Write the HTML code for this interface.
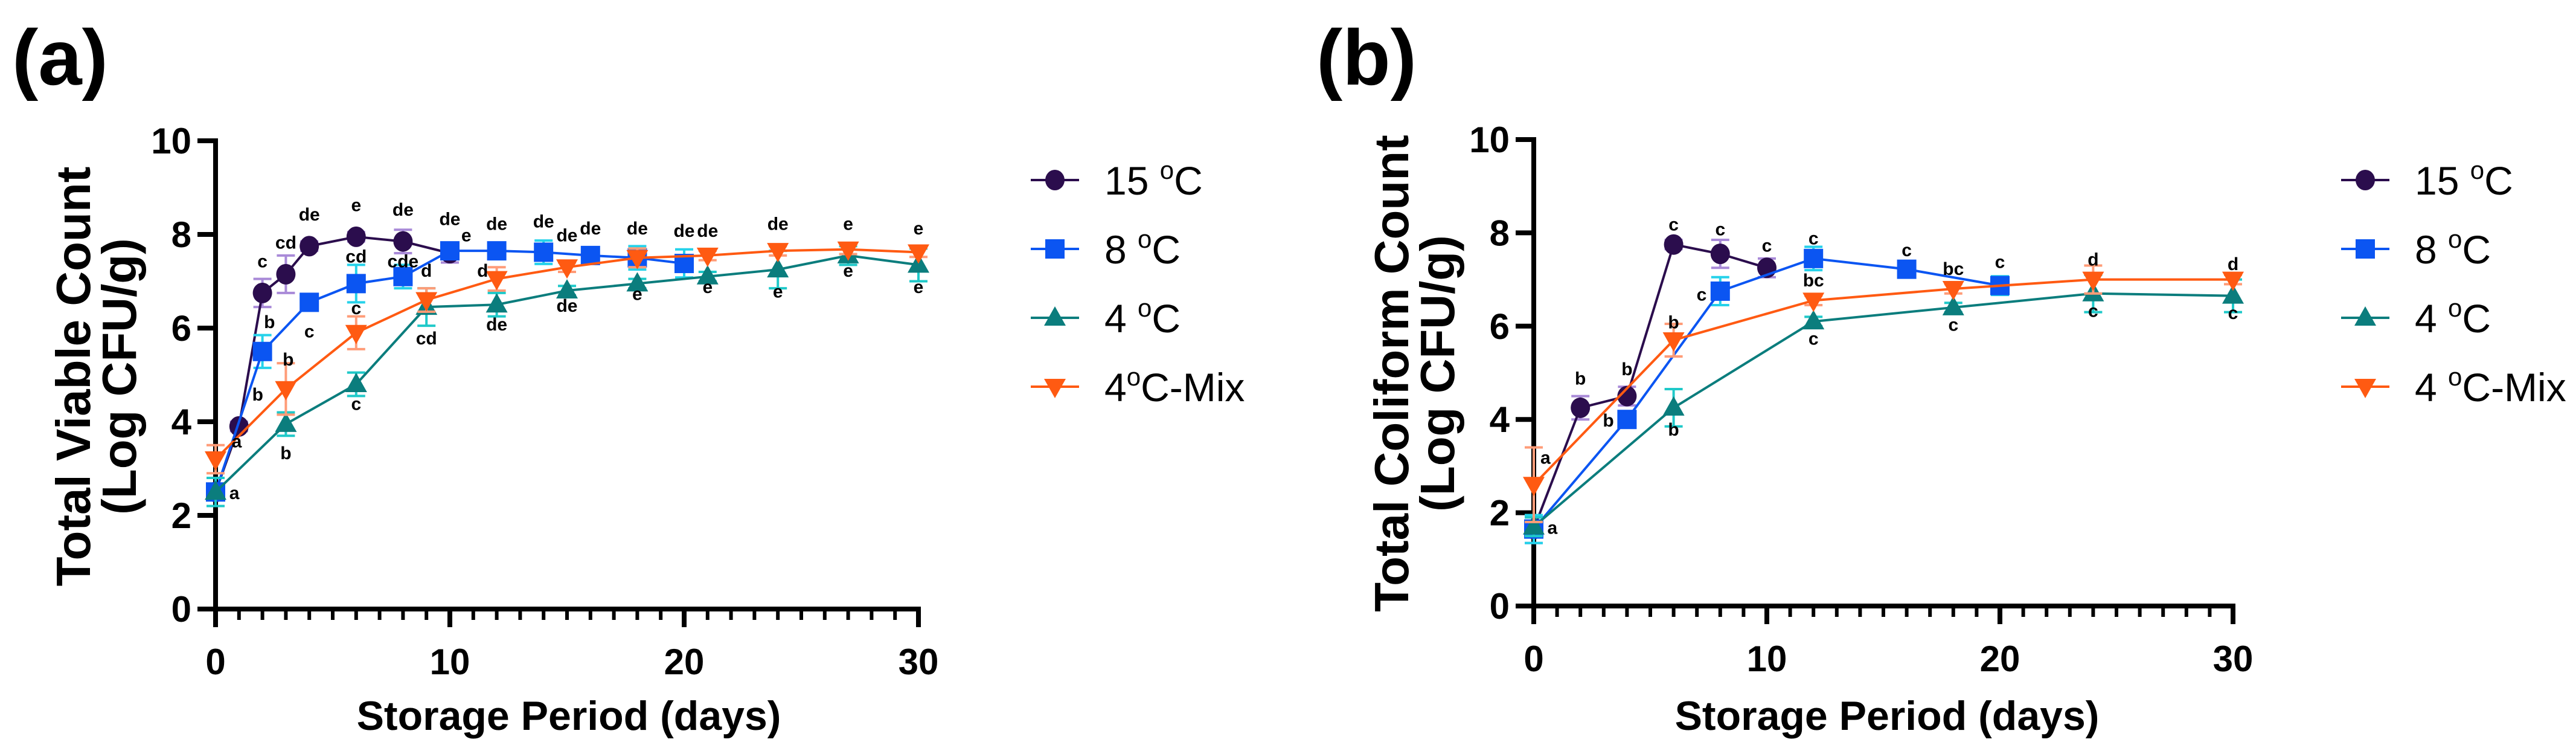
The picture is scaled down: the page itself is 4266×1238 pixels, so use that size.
<!DOCTYPE html>
<html><head><meta charset="utf-8"><style>
html,body{margin:0;padding:0;background:#fff;}
svg{display:block;}
text{font-family:"Liberation Sans Narrow","Liberation Sans",sans-serif;font-weight:bold;fill:#000;}
.w{font-family:"Liberation Sans",sans-serif;}
</style></head><body>
<svg id="fig" width="4266" height="1238" viewBox="0 0 4266 1238" xmlns="http://www.w3.org/2000/svg"></svg>
<script>
// ---- Panel (a) data: Total Viable Count ----
const aDays15 = [0,1,2,3,4,6,8,10];
const aVals15 = [2.5,3.9,6.75,7.15,7.75,7.95,7.85,7.6];
const aErr15  = [0.3,0.1,0.3,0.4,0.1,0.1,0.25,0.2];
const aDays8 = [0,2,4,6,8,10,12,14,16,18,20];
const aVals8 = [2.5,5.5,6.55,6.95,7.1,7.65,7.65,7.62,7.55,7.5,7.38];
const aErr8  = [0.3,0.35,0.1,0.4,0.25,0.1,0.1,0.25,0.1,0.25,0.3];
const aDays4 = [0,3,6,9,12,15,18,21,24,27,30];
const aVals4 = [2.5,3.95,4.8,6.45,6.5,6.8,6.95,7.1,7.25,7.55,7.35];
const aErr4  = [0.3,0.25,0.25,0.4,0.25,0.1,0.1,0.1,0.4,0.2,0.35];
const aDaysM = [0,3,6,9,12,15,18,21,24,27,30];
const aValsM = [3.2,4.7,5.9,6.6,7.05,7.3,7.5,7.55,7.65,7.68,7.62];
const aErrM  = [0.3,0.55,0.35,0.25,0.25,0.1,0.2,0.1,0.1,0.1,0.1];
const aLabels = [[0.9,3.45,'a'],[0.8,2.35,'a'],[1.8,4.45,'b'],[2,7.3,'c'],[3,7.7,'cd'],[4,8.3,'de'],[6,8.5,'e'],[8,8.4,'de'],
 [2.3,6.0,'b'],[3.1,5.2,'b'],[3,3.2,'b'],[4,5.8,'c'],[6,7.4,'cd'],[6,6.3,'c'],[6,4.25,'c'],[8,7.3,'cde'],[9,5.65,'cd'],[9,7.1,'d'],
 [10,8.2,'de'],[10.7,7.85,'e'],[12,8.1,'de'],[11.4,7.1,'d'],[12,5.95,'de'],[14,8.15,'de'],[15,7.85,'de'],[15,6.35,'de'],[16,8.0,'de'],
 [18,8.0,'de'],[18,6.6,'e'],[20,7.95,'de'],[21,7.95,'de'],[21,6.75,'e'],[24,8.1,'de'],[24,6.65,'e'],[27,8.1,'e'],[27,7.1,'e'],[30,8.0,'e'],[30,6.75,'e']];
// ---- Panel (b) data: Total Coliform Count ----
const bDays15 = [0,2,4,6,8,10];
const bVals15 = [1.65,4.25,4.5,7.75,7.55,7.25];
const bErr15  = [0.3,0.25,0.2,0.1,0.3,0.2];
const bDays8 = [0,4,8,12,16,20];
const bVals8 = [1.65,4.0,6.75,7.45,7.22,6.87];
const bErr8  = [0.3,0.1,0.3,0.25,0.1,0.2];
const bDays4 = [0,6,12,18,24,30];
const bVals4 = [1.7,4.25,6.1,6.4,6.7,6.65];
const bErr4  = [0.2,0.4,0.1,0.1,0.4,0.35];
const bDaysM = [0,6,12,18,24,30];
const bValsM = [2.6,5.7,6.55,6.8,7.0,7.0];
const bErrM  = [0.8,0.35,0.1,0.1,0.3,0.1];
const bLabels = [[0.5,3.05,'a'],[0.8,1.55,'a'],[2,4.75,'b'],[4,4.95,'b'],[3.2,3.85,'b'],[6,5.95,'b'],[6,3.65,'b'],[6,8.05,'c'],[8,7.95,'c'],
 [10,7.6,'c'],[7.2,6.55,'c'],[12,7.75,'c'],[12,6.85,'bc'],[12,5.6,'c'],[16,7.5,'c'],[18,7.1,'bc'],[18,5.9,'c'],[20,7.25,'c'],
 [24,7.3,'d'],[24,6.2,'c'],[30,7.2,'d'],[30,6.15,'c']];
const yTicks = [0,2,4,6,8,10];
const xTicks = [0,10,20,30];
const legendNames = ['15 \u00B0C','8 \u00B0C','4 \u00B0C','4\u00B0C-Mix'];

const NS='http://www.w3.org/2000/svg';
const svg=document.getElementById('fig');
function el(tag,attrs,parent){const e=document.createElementNS(NS,tag);for(const k in attrs)e.setAttribute(k,attrs[k]);(parent||svg).appendChild(e);return e;}
const COLORS=[{c:'#2b0d4d',e:'#a98ad8'},{c:'#0b55f2',e:'#25d2ea'},{c:'#0b7d7d',e:'#1fc9c9'},{c:'#ff5a12',e:'#ff9c78'}];

function marker(g,type,x,y,color){
  let m;
  if(type===0){m=el('ellipse',{cx:x,cy:y,rx:16,ry:17,fill:color},g);}
  else if(type===1){m=el('rect',{x:x-16,y:y-16,width:32,height:32,fill:color},g);}
  else if(type===2){m=el('polygon',{points:`${x},${y-19} ${x-18},${y+13} ${x+18},${y+13}`,fill:color},g);}
  else {m=el('polygon',{points:`${x},${y+19} ${x-18},${y-13} ${x+18},${y-13}`,fill:color},g);}
  return m;
}

function panel(p){
  const g=el('g',{});
  
  
  const X=d=>p.x0+d*p.dx, Y=v=>p.y0-v*p.dy;
  const pl=el('text',{x:p.letterX,y:140,'font-size':130,class:'w'},g);pl.textContent=p.letter;
  
  const ax=el('g',{},g);
  
  
  el('line',{x1:p.x0,y1:Y(10)-4,x2:p.x0,y2:p.y0+30,stroke:'#000','stroke-width':8},ax);
  el('line',{x1:p.x0-30,y1:p.y0,x2:X(30)+4,y2:p.y0,stroke:'#000','stroke-width':8},ax);
  yTicks.forEach(v=>{
    el('line',{x1:p.x0-30,y1:Y(v),x2:p.x0,y2:Y(v),stroke:'#000','stroke-width':8},ax);
    const t=el('text',{x:p.x0-40,y:Y(v)+21,'font-size':60,'text-anchor':'end'},ax);t.textContent=v;
    
  });
  for(let d=0;d<=30;d++){
    const major=d%10===0;
    el('line',{x1:X(d),y1:p.y0,x2:X(d),y2:p.y0+(major?30:18),stroke:'#000','stroke-width':major?8:6},ax);
  }
  xTicks.forEach(d=>{
    const t=el('text',{x:X(d),y:p.y0+108,'font-size':60,'text-anchor':'middle'},ax);t.textContent=d;
    
  });
  const xt=el('text',{x:p.x0+585,y:1208,'font-size':68,'text-anchor':'middle'},g);xt.textContent='Storage Period (days)';
  
  const yt=el('text',{transform:`translate(${p.x0-208},${p.y0-385}) rotate(-90)`,'font-size':80,'text-anchor':'middle',class:'w'},g);
  el('tspan',{x:0,dy:0},yt).textContent=p.ytitle;
  el('tspan',{x:0,dy:76},yt).textContent='(Log CFU/g)';
  
  p.series.forEach((s,i)=>{
    const sg=el('g',{},g);
    
    
    const col=COLORS[i];
    s.days.forEach((d,j)=>{
      const x=X(d),y1=Y(s.vals[j]+s.err[j]),y2=Y(s.vals[j]-s.err[j]);
      el('line',{x1:x,y1:y1,x2:x,y2:y2,stroke:col.e,'stroke-width':4},sg);
      el('line',{x1:x-15,y1:y1,x2:x+15,y2:y1,stroke:col.e,'stroke-width':4},sg);
      el('line',{x1:x-15,y1:y2,x2:x+15,y2:y2,stroke:col.e,'stroke-width':4},sg);
    });
    const pts=s.days.map((d,j)=>X(d)+','+Y(s.vals[j])).join(' ');
    el('polyline',{points:pts,fill:'none',stroke:col.c,'stroke-width':4},sg);
    s.days.forEach((d,j)=>{
      const m=marker(sg,i,X(d),Y(s.vals[j]),col.c);
      
      
    });
  });
  p.labels.forEach(l=>{
    const t=el('text',{x:X(l[0]),y:Y(l[1]),'font-size':30,'text-anchor':'middle',class:'w'},g);t.textContent=l[2];
    
  });
  const lg=el('g',{},g);
  
  
  legendNames.forEach((n,i)=>{
    const y=298+i*114;
    const e=el('g',{},lg);
    
    
    el('line',{x1:p.legX-40,y1:y,x2:p.legX+40,y2:y,stroke:COLORS[i].c,'stroke-width':4},e);
    marker(e,i,p.legX,y,COLORS[i].c);
    const name=(p.letter==='(b)'&&i===3)?'4 \u00B0C-Mix':n;
    const parts=name.split('\u00B0');
    const t=el('text',{x:p.legX+82,y:y+24,'font-size':66,style:'font-weight:normal'},e);
    el('tspan',{},t).textContent=parts[0];
    el('tspan',{dy:-26,'font-size':42},t).textContent='o';
    el('tspan',{dy:26},t).textContent=parts[1];
  });
}

panel({name:'panel-a-total-viable-count',letter:'(a)',letterX:20,x0:357,dx:38.8,y0:1008,dy:77.5,ytitle:'Total Viable Count',legX:1747,
  series:[{key:'15c',days:aDays15,vals:aVals15,err:aErr15},{key:'8c',days:aDays8,vals:aVals8,err:aErr8},
          {key:'4c',days:aDays4,vals:aVals4,err:aErr4},{key:'4c-mix',days:aDaysM,vals:aValsM,err:aErrM}],labels:aLabels});
panel({name:'panel-b-total-coliform-count',letter:'(b)',letterX:2180,x0:2540,dx:38.6,y0:1003,dy:77.2,ytitle:'Total Coliform Count',legX:3917,
  series:[{key:'15c',days:bDays15,vals:bVals15,err:bErr15},{key:'8c',days:bDays8,vals:bVals8,err:bErr8},
          {key:'4c',days:bDays4,vals:bVals4,err:bErr4},{key:'4c-mix',days:bDaysM,vals:bValsM,err:bErrM}],labels:bLabels});
</script>
</body></html>
